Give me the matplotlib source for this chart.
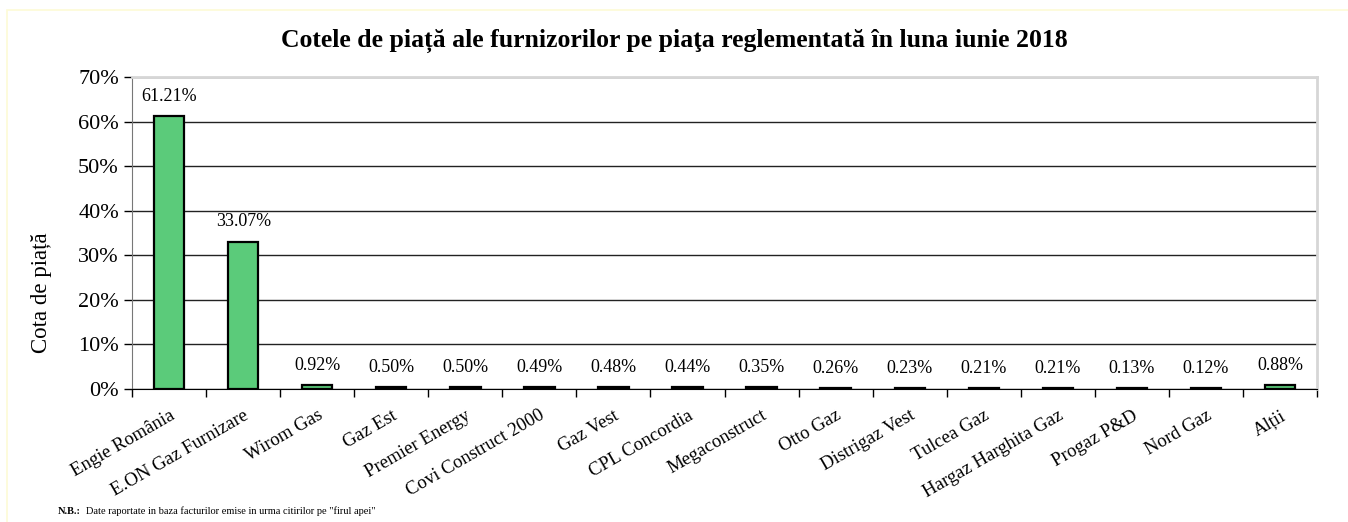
import numpy as np
import matplotlib.pyplot as plt
from matplotlib.patches import Rectangle
from matplotlib.ticker import FixedLocator, PercentFormatter

plt.rcParams['font.family'] = ['Liberation Serif', 'DejaVu Serif']

furnizori = ["Engie România", "E.ON Gaz Furnizare", "Wirom Gas", "Gaz Est", "Premier Energy",
             "Covi Construct 2000", "Gaz Vest", "CPL Concordia", "Megaconstruct", "Otto Gaz",
             "Distrigaz Vest", "Tulcea Gaz", "Hargaz Harghita Gaz", "Progaz P&D", "Nord Gaz", "Alții"]
cote = [61.21, 33.07, 0.92, 0.50, 0.50, 0.49, 0.48, 0.44, 0.35, 0.26, 0.23, 0.21, 0.21, 0.13, 0.12, 0.88]
etichete = ["61.21%", "33.07%", "0.92%", "0.50%", "0.50%", "0.49%", "0.48%", "0.44%", "0.35%",
            "0.26%", "0.23%", "0.21%", "0.21%", "0.13%", "0.12%", "0.88%"]

fig = plt.figure(figsize=(13.48, 5.22), dpi=100)
ax = fig.add_axes([0.098, 0.2548, 0.879, 0.5977])

x = np.arange(len(furnizori))
ax.bar(x, cote, width=0.41, color="#5bcb7a", edgecolor="black", linewidth=1.6, zorder=3)

for xi, v, t in zip(x, cote, etichete):
    ax.annotate(t, (xi, v), xytext=(0, 8), textcoords="offset points",
                ha="center", va="bottom", fontsize=13)

ax.set_xlim(-0.5, len(furnizori) - 0.5)
ax.set_ylim(0, 70)
ax.set_yticks(np.arange(0, 71, 10))
ax.yaxis.set_major_formatter(PercentFormatter(decimals=0))
ax.tick_params(axis="y", labelsize=16, length=6, direction="out", width=1)
ax.grid(axis="y", color="#222222", linewidth=1, zorder=0)

ax.set_xticks(x)
ax.set_xticklabels(furnizori, rotation=30, ha="right", rotation_mode="anchor", fontsize=13.5)
ax.tick_params(axis="x", length=0, pad=13)
ax.xaxis.set_minor_locator(FixedLocator(np.arange(-0.5, len(furnizori), 1.0)))
ax.tick_params(axis="x", which="minor", length=6, width=1, direction="out")

ax.spines["bottom"].set_color("black")
ax.spines["bottom"].set_zorder(4)
ax.spines["left"].set_color("#777777")
ax.spines["top"].set_color("#d6d6d6")
ax.spines["top"].set_linewidth(2)
ax.spines["right"].set_color("#d6d6d6")
ax.spines["right"].set_linewidth(2)

fig.text(0.5, 0.922, "Cotele de piață ale furnizorilor pe piaţa reglementată în luna iunie 2018",
         ha="center", va="center", fontsize=18.5, fontweight="bold")
fig.text(0.031, 0.439, "Cota de piață", rotation=90, ha="center", va="center", fontsize=16.5)
fig.text(0.043, 0.012, "N.B.:", fontsize=7.5, fontweight="bold", ha="left", va="bottom")
fig.text(0.064, 0.012, "Date raportate in baza facturilor emise in urma citirilor pe \"firul apei\"",
         fontsize=7.5, ha="left", va="bottom")

fig.patches.append(Rectangle((0.005, -0.01), 1.0, 0.99, transform=fig.transFigure,
                             fill=False, edgecolor="#fdfbd6", linewidth=1.2))

fig.savefig("out.png", dpi=100)
